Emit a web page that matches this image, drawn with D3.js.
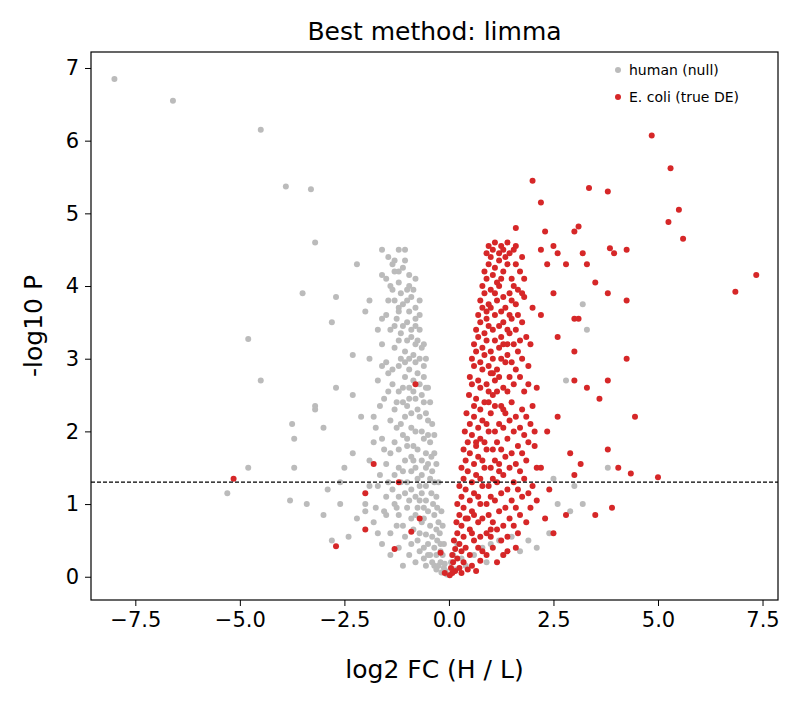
<html>
<head>
<meta charset="utf-8">
<script src="https://d3js.org/d3.v7.min.js"></script>
<style>
  body { margin: 0; background: #fff; }
  text { font-family: "DejaVu Sans", sans-serif; }
</style>
</head>
<body>
<div id="chart"></div>
<script>
// human (null) proteins: [log2FC, -log10P]
const humanOutliers = [
  [-8.0,6.85],[-6.6,6.55],[-4.5,6.15],[-3.9,5.37],[-3.3,5.33],[-3.2,4.6],[-3.5,3.9],[-4.8,3.27],
  [-4.5,2.7],[-5.3,1.15],[-4.8,1.5],[-3.7,1.9],[-3.7,1.5],[-3.75,2.1],[-3.8,1.05],[-3.4,1.0],
  [-3.2,2.3],[-3.2,2.35],[-3.0,2.05],[-3.0,0.85],[-2.9,1.2],[-2.8,3.5],[-2.7,3.85],[-2.7,2.6],[-2.6,1.0],
  [-2.4,0.55],[-2.3,3.05],[-2.3,2.5],[-2.2,4.3],[-2.0,3.65],[-1.9,3.0],[-1.6,4.5],[-1.5,4.1],
  [-1.3,4.2],[-1.2,3.7],[-2.1,2.2],[-1.8,1.85],[-2.0,1.0],[-1.7,0.6],[-1.5,0.85],[-1.2,0.4],
  [-2.5,1.5],[-2.3,1.7],[-2.6,1.3],[-2.2,0.8],[-2.8,0.5],[-1.9,3.8],[-1.7,3.4],[-1.6,2.9],
  [3.2,3.75],[3.0,1.25],[3.8,1.5],[3.2,1.0],[2.9,0.9],[3.3,3.4],[2.8,2.7],[2.4,0.6],[2.6,1.0],
  [2.5,1.35],[1.9,0.5],[2.1,0.4],[1.7,0.35],[1.5,0.55]
];
const humanCloud = [
  [-1.45,4.4],[-1.3,4.35],[-1.1,4.25],[-1.4,4.0],[-1.2,4.05],[-1.0,3.95],[-0.9,3.85],[-1.3,3.8],
  [-1.1,3.75],[-0.8,3.7],[-1.5,3.6],[-1.25,3.55],[-1.0,3.5],[-0.8,3.45],[-1.4,3.4],[-1.15,3.35],
  [-0.9,3.3],[-0.75,3.25],[-1.6,3.2],[-1.3,3.15],[-1.05,3.1],[-0.85,3.05],[-0.7,3.0],[-1.5,2.95],
  [-1.2,2.9],[-0.95,2.85],[-0.75,2.8],[-0.6,2.75],[-1.7,2.7],[-1.35,2.65],[-1.1,2.6],[-0.85,2.55],
  [-0.65,2.5],[-1.55,2.45],[-1.25,2.4],[-1.0,2.35],[-0.75,2.3],[-0.55,2.25],[-1.8,2.2],[-1.4,2.15],
  [-1.15,2.1],[-0.9,2.05],[-0.65,2.0],[-0.5,1.95],[-1.6,1.9],[-1.3,1.85],[-1.0,1.8],[-0.75,1.75],
  [-0.55,1.7],[-0.42,1.65],[-1.9,1.6],[-1.5,1.55],[-1.2,1.5],[-0.9,1.45],[-0.65,1.4],[-0.45,1.35],
  [-0.35,1.3],[-1.7,1.25],[-1.35,1.2],[-1.05,1.15],[-0.8,1.1],[-0.55,1.05],[-0.38,1.0],[-0.28,0.95],
  [-2.0,0.9],[-1.55,0.9],[-1.2,0.85],[-0.9,0.8],[-0.65,0.75],[-0.45,0.7],[-0.3,0.65],[-0.22,0.6],
  [-1.4,0.6],[-1.05,0.55],[-0.75,0.5],[-0.5,0.45],[-0.35,0.4],[-0.2,0.35],[-0.15,0.3],[-0.95,0.3],
  [-0.6,0.25],[-0.4,0.2],[-0.25,0.15],[-0.12,0.12],[-0.08,0.08],[-0.3,0.1],[-0.18,0.06],[-0.05,0.03],
  [-1.2,4.5],[-0.95,4.15],[-0.7,3.6],[-0.6,3.2],[-0.5,2.6],[-0.4,2.1],[-0.35,1.7],[-0.25,1.3],
  [-0.18,0.9],[-1.05,2.95],[-0.95,2.45],[-1.1,1.95],[-0.85,1.6],[-1.0,1.3],[-0.7,1.25],[-0.6,0.95],
  [-1.3,1.0],[-1.75,0.95],[-0.85,0.65],[-0.55,0.58],[-1.25,0.7],[-0.45,0.3],[-0.7,0.35],[0.05,0.2],
  [0.1,0.3],[0.2,0.45],[0.3,0.25],[0.15,0.1],[0.4,0.15],[0.6,0.3],[0.8,0.4],[1.0,0.45],[1.2,0.5],
  [0.9,0.2],[1.3,0.3]
];
const humanCore = [
  [-1.35,4.3],[-1.05,4.35],[-1.2,4.2],[-0.95,4.0],[-1.15,3.9],[-1.35,3.95],[-0.85,3.95],[-1.0,3.8],
  [-1.2,3.65],[-0.95,3.65],[-0.8,3.55],[-1.1,3.45],[-0.9,3.4],[-1.3,3.45],[-0.7,3.4],[-1.0,3.25],
  [-0.8,3.2],[-1.2,3.25],[-0.65,3.15],[-0.95,3.0],[-1.15,3.0],[-0.8,2.95],[-0.6,2.9],[-1.35,2.85],
  [-1.05,2.75],[-0.85,2.7],[-0.7,2.65],[-0.55,2.6],[-1.2,2.55],[-0.95,2.6],[-1.45,2.55],[-0.8,2.45],
  [-0.6,2.4],[-1.1,2.4],[-0.9,2.25],[-0.7,2.2],[-0.5,2.15],[-1.3,2.3],[-1.05,2.2],[-1.25,2.05],
  [-0.8,2.0],[-0.6,1.9],[-0.45,1.85],[-1.0,1.9],[-1.2,1.75],[-0.85,1.8],[-0.65,1.6],[-0.5,1.55],
  [-1.4,1.7],[-1.05,1.6],[-0.8,1.5],[-0.55,1.5],[-0.4,1.45],[-1.3,1.4],[-1.1,1.45],[-0.75,1.35],
  [-0.55,1.25],[-0.42,1.15],[-0.9,1.2],[-1.2,1.1],[-0.65,1.15],[-0.3,1.1],[-1.5,1.1],[-0.75,0.95],
  [-0.5,0.9],[-0.35,0.85],[-1.0,0.95],[-0.8,0.85],[-0.6,0.8],[-0.25,0.75],[-1.1,0.7],[-0.7,0.6],
  [-0.4,0.55],[-0.28,0.5],[-0.9,0.45],[-0.6,0.4],[-0.2,0.45],[-0.5,0.3],[-0.3,0.3],[-0.35,0.15],
  [-0.2,0.2],[-0.1,0.18],[-0.8,0.2],[-0.55,0.15],[-1.1,0.15],[-1.4,0.3],[-1.6,0.45],[-1.8,0.75],
  [-1.9,1.25],[-1.65,1.4],[-1.45,1.3],[-1.55,1.75],[-1.75,2.05],[-1.65,2.35],[-1.45,2.8],[-1.6,3.55],
  [-1.45,3.8],[-1.6,4.15],[-1.05,4.5],[-0.8,4.1],[-0.7,3.8],[-0.55,3.0],[-0.45,2.4],[-0.35,1.95],
  [-0.3,1.55],[-0.15,0.7],[-0.12,0.45],[-1.25,0.95],[-0.95,1.05],[-0.7,1.05],[-1.15,1.3],[-0.9,1.65]
];
const ecoliOutliers = [
  [4.85,6.07],[5.3,5.62],[5.5,5.05],[5.25,4.88],[5.6,4.65],[7.35,4.15],[6.85,3.92],[3.35,5.35],
  [3.8,5.3],[2.0,5.45],[2.2,5.15],[1.6,4.8],[2.3,4.75],[3.1,4.82],[3.0,4.75],[3.2,4.45],[3.3,4.3],
  [2.8,4.3],[3.5,4.05],[3.85,4.52],[3.95,4.45],[4.25,4.5],[3.8,3.9],[4.25,3.8],[2.6,4.45],[2.5,4.55],
  [2.2,4.5],[2.35,4.3],[2.5,3.9],[2.2,3.6],[3.0,3.55],[3.1,3.55],[2.6,3.3],[3.0,3.1],[4.25,3.0],
  [3.6,2.45],[3.3,2.6],[3.0,2.7],[3.8,2.7],[4.45,2.2],[2.6,2.2],[2.35,2.0],[2.9,1.7],[3.15,1.55],
  [3.8,1.75],[4.05,1.5],[4.35,1.42],[5.0,1.37],[3.9,0.95],[3.5,0.85],[3.0,1.4],[2.2,1.5],[2.4,1.2],
  [2.8,0.85],[2.5,0.6],[2.1,1.05],[2.3,0.8],[-5.15,1.35],[-2.7,0.42],[-1.8,1.55],[-2.0,1.15],
  [-2.0,0.65],[-1.2,1.3],[-0.8,2.65],[-0.7,0.8],[-0.9,0.62],[-1.3,0.38],[-0.2,0.33],[-0.1,0.05]
];
const ecoliCloud = [
  [0.95,4.55],[1.1,4.6],[1.25,4.55],[1.4,4.6],[1.55,4.5],[1.0,4.4],[1.2,4.35],[1.35,4.4],[1.6,4.3],
  [0.85,4.2],[1.05,4.15],[1.3,4.2],[1.5,4.1],[1.7,4.2],[0.8,4.0],[1.0,3.95],[1.2,4.0],[1.45,3.9],
  [1.65,3.95],[0.75,3.8],[0.95,3.75],[1.15,3.8],[1.35,3.7],[1.6,3.75],[1.8,3.85],[0.7,3.6],[0.9,3.55],
  [1.1,3.6],[1.3,3.5],[1.5,3.55],[1.75,3.5],[0.65,3.4],[0.85,3.35],[1.05,3.4],[1.25,3.3],[1.45,3.35],
  [1.7,3.25],[0.6,3.2],[0.8,3.15],[1.0,3.1],[1.2,3.15],[1.4,3.05],[1.65,3.1],[1.95,3.2],[0.55,3.0],
  [0.75,2.95],[0.95,2.9],[1.15,2.85],[1.35,2.95],[1.6,2.85],[1.9,2.9],[0.5,2.75],[0.7,2.7],[0.9,2.65],
  [1.1,2.7],[1.3,2.6],[1.55,2.65],[1.8,2.55],[2.1,2.6],[0.48,2.5],[0.65,2.45],[0.85,2.4],[1.05,2.5],
  [1.25,2.35],[1.5,2.4],[1.75,2.3],[2.0,2.35],[0.42,2.25],[0.6,2.2],[0.8,2.15],[1.0,2.25],[1.2,2.1],
  [1.45,2.15],[1.7,2.05],[1.95,2.1],[0.38,2.0],[0.55,1.95],[0.75,1.9],[0.95,2.0],[1.15,1.85],[1.4,1.9],
  [1.65,1.8],[1.9,1.85],[0.35,1.75],[0.5,1.7],[0.7,1.65],[0.9,1.75],[1.1,1.6],[1.35,1.65],[1.6,1.55],
  [1.85,1.6],[0.3,1.5],[0.45,1.45],[0.65,1.4],[0.85,1.5],[1.05,1.35],[1.3,1.4],[1.55,1.3],[1.8,1.35],
  [2.0,1.25],[0.25,1.25],[0.4,1.2],[0.6,1.15],[0.8,1.25],[1.0,1.1],[1.25,1.15],[1.5,1.05],[1.75,1.1],
  [1.95,0.95],[0.2,1.0],[0.35,0.95],[0.55,0.9],[0.75,1.0],[0.95,0.85],[1.2,0.9],[1.45,0.8],[1.7,0.85],
  [0.18,0.75],[0.3,0.7],[0.5,0.65],[0.7,0.75],[0.9,0.6],[1.15,0.65],[1.4,0.55],[1.65,0.6],[0.12,0.5],
  [0.25,0.45],[0.4,0.4],[0.6,0.5],[0.8,0.35],[1.05,0.4],[1.3,0.3],[0.08,0.3],[0.2,0.25],[0.35,0.2],
  [0.55,0.15],[0.75,0.22],[0.05,0.12],[0.15,0.08],[0.3,0.05],[0.02,0.02],[1.3,4.5],[1.15,4.05],
  [0.9,3.65],[1.4,3.2],[1.05,2.8],[1.3,2.3],[0.65,1.85],[1.2,1.45],[0.45,0.8],[1.0,0.55]
];
const ecoliCore = [
  [1.05,4.5],[1.2,4.45],[1.45,4.45],[0.95,4.3],[1.1,4.25],[1.4,4.3],[1.25,4.1],[0.9,4.1],[1.55,4.0],
  [1.1,3.9],[1.3,3.85],[0.85,3.9],[1.5,3.8],[1.0,3.7],[1.25,3.65],[0.8,3.7],[1.45,3.6],[1.65,3.6],
  [0.95,3.45],[1.2,3.45],[0.75,3.5],[1.4,3.4],[1.6,3.4],[0.7,3.3],[0.9,3.25],[1.1,3.25],[1.3,3.2],
  [1.55,3.2],[0.65,3.1],[0.85,3.05],[1.05,3.0],[1.25,3.0],[1.5,2.95],[1.75,3.0],[0.6,2.9],[0.8,2.85],
  [1.0,2.8],[1.2,2.75],[1.45,2.75],[1.7,2.75],[0.55,2.65],[0.75,2.6],[0.95,2.55],[1.15,2.55],[1.4,2.55],
  [0.6,2.35],[0.75,2.3],[0.95,2.4],[1.1,2.35],[1.35,2.25],[1.6,2.2],[1.85,2.2],[0.5,2.1],[0.7,2.05],
  [0.9,2.1],[1.1,2.0],[1.3,2.05],[1.55,2.0],[1.8,1.95],[0.45,1.85],[0.65,1.8],[0.85,1.85],[1.05,1.75],
  [1.25,1.75],[1.5,1.7],[1.75,1.7],[0.4,1.6],[0.6,1.55],[0.8,1.6],[1.0,1.5],[1.2,1.55],[1.45,1.5],
  [1.7,1.45],[0.35,1.35],[0.55,1.3],[0.75,1.35],[0.95,1.25],[1.15,1.3],[1.4,1.2],[1.65,1.2],[0.3,1.1],
  [0.5,1.05],[0.7,1.1],[0.9,1.0],[1.1,1.05],[1.35,0.95],[1.6,0.95],[0.25,0.85],[0.4,0.8],[0.6,0.85],
  [0.8,0.8],[1.05,0.75],[1.3,0.7],[1.55,0.7],[0.2,0.6],[0.35,0.55],[0.55,0.6],[0.75,0.55],[1.0,0.65],
  [1.25,0.5],[0.15,0.38],[0.3,0.35],[0.5,0.3],[0.7,0.4],[0.9,0.3],[1.15,0.2],[0.1,0.2],[0.25,0.12],
  [0.45,0.1],[0.65,0.08],[0.08,0.05],[1.75,3.9],[1.85,3.3],[1.9,2.65],[2.05,2.0],[2.1,1.5],[2.05,1.8],
  [1.9,1.15],[1.85,0.75],[1.6,0.4],[1.4,0.35],[1.75,4.4],[1.6,4.55],[0.9,4.45],[1.8,4.1],[2.0,3.7]
];
const human = humanOutliers.concat(humanCloud, humanCore);
const ecoli = ecoliOutliers.concat(ecoliCloud, ecoliCore);
const xTicks = [-7.5, -5, -2.5, 0, 2.5, 5, 7.5];
const yTicks = [0, 1, 2, 3, 4, 5, 6, 7];
const threshold = 1.30103;

const W = 793, H = 702;
const margin = {top: 52, right: 15, bottom: 102, left: 91};
const width = W - margin.left - margin.right, height = H - margin.top - margin.bottom;

const svg = d3.select("#chart").append("svg").attr("width", W).attr("height", H);
const g = svg.append("g").attr("transform", `translate(${margin.left},${margin.top})`);

const x = d3.scaleLinear().domain([-8.56, 7.87]).range([0, width]);
const y = d3.scaleLinear().domain([-0.32, 7.22]).range([height, 0]);

const xAxis = g.append("g").attr("transform", `translate(0,${height})`)
  .call(d3.axisBottom(x).tickValues(xTicks).tickSize(6).tickPadding(6));
xAxis.selectAll("text").text(d => d3.format(".1f")(d).replace("-", "\u2212"));
const yAxis = g.append("g")
  .call(d3.axisLeft(y).tickValues(yTicks).tickSize(6).tickPadding(6));
[xAxis, yAxis].forEach(a => {
  a.attr("font-size", null).attr("font-family", null);
  a.selectAll("text").style("font-size", "21px").style("font-family", "DejaVu Sans");
});
g.selectAll(".domain").remove();
g.selectAll(".tick line").attr("stroke", "#000");

g.selectAll(".h").data(human).join("circle")
  .attr("cx", d => x(d[0])).attr("cy", d => y(d[1])).attr("r", 3).attr("fill", "#bbbbbb");
g.selectAll(".e").data(ecoli).join("circle")
  .attr("cx", d => x(d[0])).attr("cy", d => y(d[1])).attr("r", 3).attr("fill", "#d62728");

g.append("line").attr("x1", 0).attr("x2", width).attr("y1", y(threshold)).attr("y2", y(threshold))
  .attr("stroke", "#000").attr("stroke-width", 1.2).attr("stroke-dasharray", "4,2");

g.append("rect").attr("width", width).attr("height", height)
  .attr("fill", "none").attr("stroke", "#000").attr("stroke-width", 1.2);

// legend
const legend = [["human (null)", "#bbbbbb"], ["E. coli (true DE)", "#d62728"]];
legend.forEach((l, i) => {
  const ly = 18 + i * 27;
  g.append("circle").attr("cx", 527).attr("cy", ly).attr("r", 3).attr("fill", l[1]);
  g.append("text").attr("x", 538).attr("y", ly + 5).style("font-size", "14px").text(l[0]);
});

svg.append("text").attr("x", margin.left + width / 2).attr("y", 40).attr("text-anchor", "middle")
  .style("font-size", "25px").text("Best method: limma");
svg.append("text").attr("x", margin.left + width / 2).attr("y", 678).attr("text-anchor", "middle")
  .style("font-size", "25px").text("log2 FC (H / L)");
svg.append("text").attr("transform", `translate(42,${margin.top + height / 2}) rotate(-90)`)
  .attr("text-anchor", "middle").style("font-size", "25px").text("-log10 P");
</script>
</body>
</html>
